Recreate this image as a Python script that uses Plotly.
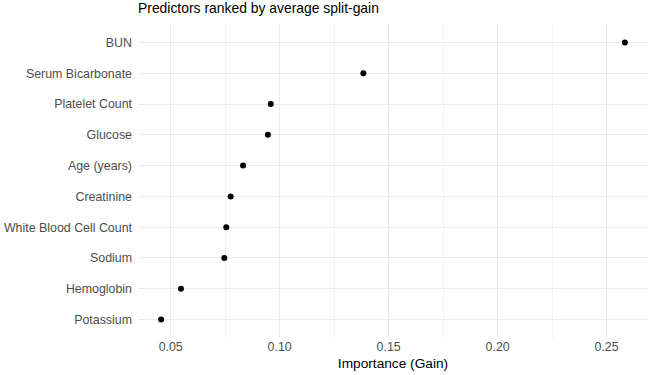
import plotly.graph_objects as go

features = ["BUN", "Serum Bicarbonate", "Platelet Count", "Glucose", "Age (years)",
            "Creatinine", "White Blood Cell Count", "Sodium", "Hemoglobin", "Potassium"]
importance = [0.2584, 0.1384, 0.0959, 0.0946, 0.0832, 0.0775, 0.0755, 0.0746, 0.0547, 0.0456]
x_ticks = [0.05, 0.10, 0.15, 0.20, 0.25]
x_tick_labels = ["0.05", "0.10", "0.15", "0.20", "0.25"]

order = list(reversed(features))  # bottom to top

fig = go.Figure(go.Scatter(
    x=importance, y=features, mode="markers",
    marker=dict(color="black", size=6),
    showlegend=False,
))

fig.update_layout(
    width=650, height=375,
    margin=dict(l=138, r=2, t=24, b=37),
    paper_bgcolor="white", plot_bgcolor="white",
    font=dict(family="Liberation Sans, Arial, sans-serif", size=12, color="#4d4d4d"),
    title=dict(text="Predictors ranked by average split-gain", x=138/650, xanchor="left",
               y=1 - 8/375, yanchor="middle",
               font=dict(size=13.9, color="black")),
    xaxis=dict(
        range=[0.0350, 0.2690], tickvals=x_ticks, ticktext=x_tick_labels,
        showgrid=True, gridcolor="#ebebeb", gridwidth=1.1, zeroline=False,
        showline=False, ticks="",
        minor=dict(showgrid=True, tickvals=[0.075, 0.125, 0.175, 0.225],
                   gridcolor="#f0f0f0", gridwidth=0.8),
        title=dict(text="Importance (Gain)", font=dict(size=13.7, color="black"), standoff=5),
        tickfont=dict(size=12.4, color="#4d4d4d"),
    ),
    yaxis=dict(
        categoryorder="array", categoryarray=order, range=[-0.6, 9.6],
        showgrid=True, gridcolor="#ebebeb", gridwidth=1.1, zeroline=False,
        showline=False, ticks="", ticklabelstandoff=5,
        tickfont=dict(size=12.4, color="#4d4d4d"),
    ),
)

fig.write_html("out.html")
